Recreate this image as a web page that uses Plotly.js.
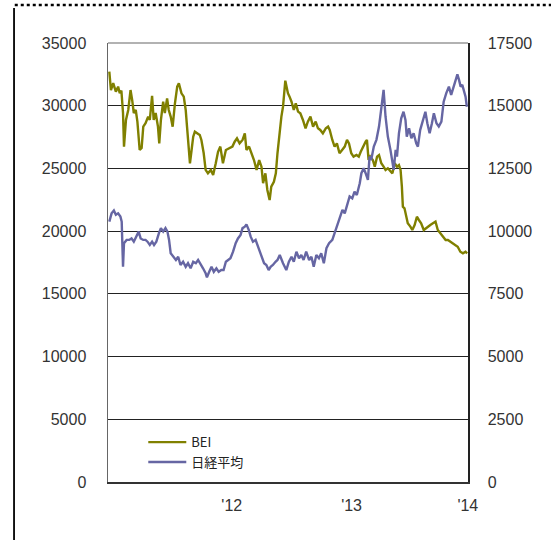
<!DOCTYPE html>
<html>
<head>
<meta charset="utf-8">
<script src="https://cdn.plot.ly/plotly-3.0.1.min.js"></script>
<style>
html,body{margin:0;padding:0;background:#fff;}
#chart{width:551px;height:540px;}
</style>
</head>
<body>
<div id="chart"></div>
<script>
// BEI (left axis)
const beiDates = [
'2011-01-31','2011-02-05','2011-02-12','2011-02-20','2011-02-27','2011-03-04','2011-03-09','2011-03-14','2011-03-17','2011-03-23',
'2011-03-30','2011-04-06','2011-04-11','2011-04-16','2011-04-22','2011-04-27','2011-05-04','2011-05-10','2011-05-15','2011-05-22',
'2011-05-30','2011-06-04','2011-06-11','2011-06-16','2011-06-22','2011-06-29','2011-07-03','2011-07-08','2011-07-15','2011-07-20',
'2011-07-27','2011-08-01','2011-08-07','2011-08-13','2011-08-20','2011-08-27','2011-09-01','2011-09-09','2011-09-16','2011-09-22',
'2011-09-26','2011-09-30','2011-10-05','2011-10-10','2011-10-15','2011-10-20','2011-11-04','2011-11-09','2011-11-16','2011-11-22',
'2011-11-29','2011-12-08','2011-12-15','2011-12-23','2011-12-30','2012-01-06','2012-01-14','2012-01-23','2012-02-02','2012-02-12',
'2012-02-19','2012-02-26','2012-03-05','2012-03-14','2012-03-21','2012-03-26','2012-04-03','2012-04-10','2012-04-18','2012-04-26',
'2012-05-04','2012-05-11','2012-05-16','2012-05-23','2012-05-29','2012-06-05','2012-06-10','2012-06-18','2012-06-24','2012-06-29',
'2012-07-06','2012-07-11','2012-07-16','2012-07-23','2012-07-27','2012-07-31','2012-08-05','2012-08-11','2012-08-18','2012-08-24',
'2012-08-31','2012-09-07','2012-09-15','2012-09-23','2012-09-30','2012-10-08','2012-10-16','2012-10-24','2012-10-31','2012-11-07',
'2012-11-15','2012-11-24','2012-12-01','2012-12-06','2012-12-14','2012-12-21','2012-12-28','2013-01-05','2013-01-13','2013-01-21',
'2013-01-28','2013-02-03','2013-02-10','2013-02-17','2013-02-26','2013-03-05','2013-03-11','2013-03-18','2013-03-26','2013-03-30',
'2013-04-04','2013-04-09','2013-04-17','2013-04-23','2013-04-30','2013-05-06','2013-05-13','2013-05-20','2013-05-26','2013-06-02',
'2013-06-10','2013-06-16','2013-06-23','2013-06-30','2013-07-06','2013-07-11','2013-07-15','2013-07-18','2013-07-23','2013-07-29',
'2013-08-02','2013-08-10','2013-08-16','2013-08-23','2013-08-30','2013-09-05','2013-09-12','2013-09-20','2013-09-26','2013-10-03',
'2013-10-10','2013-10-18','2013-10-26','2013-11-02','2013-11-10','2013-11-18','2013-11-26','2013-12-03','2013-12-10','2013-12-18',
'2013-12-26','2014-01-02','2014-01-10','2014-01-18','2014-01-26','2014-01-31'
];
const beiValues = [
32710,31250,31800,31120,31520,31000,31200,29420,26740,28860,
29660,31250,30460,29420,29660,28730,26470,26630,28330,28600,
29130,28860,30780,28860,29420,28330,27000,28860,30320,29420,
30590,29660,29130,28330,30190,31520,31790,30990,30720,29660,
28330,27000,25400,26470,27530,27930,27670,27270,26230,24880,
24610,24880,24480,25410,26330,26740,25410,26470,26600,26740,
27130,27400,27000,27270,27800,26470,26740,26210,25670,24880,
25670,25140,23820,24610,23280,22480,23550,23940,24610,26210,
28070,29130,29920,32000,31500,31000,30720,30320,29660,30190,
29530,29390,28860,28200,28730,29130,28330,28730,28200,28070,
27800,28200,28330,28070,27270,26740,27000,26210,26470,26740,
27270,27000,26210,25940,26070,25940,26330,26740,27130,27270,
25670,25940,25670,25140,25940,26070,25410,25140,24880,25010,
24740,24610,25410,25140,25270,24880,23550,21950,21820,21150,
20630,20360,20090,20490,21150,20890,20630,20090,20230,20360,
20490,20630,20760,20090,19830,19560,19290,19290,19160,19030,
18900,18760,18360,18230,18360,18230
];

// 日経平均 (right axis)
const nikkeiDates = [
'2011-01-31','2011-02-07','2011-02-14','2011-02-20','2011-02-27','2011-03-06','2011-03-10','2011-03-14','2011-03-17','2011-03-25',
'2011-04-02','2011-04-09','2011-04-16','2011-04-24','2011-05-01','2011-05-07','2011-05-15','2011-05-22','2011-05-28','2011-06-04',
'2011-06-11','2011-06-17','2011-06-24','2011-07-02','2011-07-08','2011-07-15','2011-07-22','2011-07-28','2011-08-02','2011-08-07',
'2011-08-14','2011-08-23','2011-08-30','2011-09-06','2011-09-14','2011-09-22','2011-09-29','2011-10-07','2011-10-15','2011-10-23',
'2011-10-30','2011-11-06','2011-11-14','2011-11-22','2011-11-26','2011-12-03','2011-12-10','2011-12-17','2011-12-25','2012-01-01',
'2012-01-09','2012-01-16','2012-01-23','2012-01-30','2012-02-06','2012-02-14','2012-02-22','2012-02-29','2012-03-08','2012-03-14',
'2012-03-21','2012-03-26','2012-04-02','2012-04-08','2012-04-15','2012-04-23','2012-04-29','2012-05-06','2012-05-13','2012-05-19',
'2012-05-26','2012-06-02','2012-06-08','2012-06-15','2012-06-23','2012-06-29','2012-07-06','2012-07-11','2012-07-16','2012-07-26',
'2012-08-03','2012-08-11','2012-08-18','2012-08-26','2012-09-03','2012-09-10','2012-09-17','2012-09-25','2012-10-04','2012-10-11',
'2012-10-18','2012-10-26','2012-11-03','2012-11-10','2012-11-18','2012-11-26','2012-12-04','2012-12-14','2012-12-21','2012-12-28',
'2013-01-05','2013-01-14','2013-01-21','2013-01-28','2013-02-05','2013-02-13','2013-02-20','2013-02-27','2013-03-08','2013-03-13',
'2013-03-20','2013-03-26','2013-04-02','2013-04-07','2013-04-12','2013-04-20','2013-04-28','2013-05-06','2013-05-13','2013-05-20',
'2013-05-26','2013-06-02','2013-06-10','2013-06-16','2013-06-20','2013-06-26','2013-06-30','2013-07-06','2013-07-13','2013-07-20',
'2013-07-26','2013-07-30','2013-08-06','2013-08-13','2013-08-20','2013-08-28','2013-09-02','2013-09-09','2013-09-17','2013-09-25',
'2013-10-01','2013-10-08','2013-10-15','2013-10-21','2013-10-29','2013-11-05','2013-11-13','2013-11-20','2013-11-28','2013-12-06',
'2013-12-13','2013-12-18','2013-12-26','2014-01-01','2014-01-06','2014-01-11','2014-01-16','2014-01-21','2014-01-26','2014-01-30'
];
const nikkeiValues = [
10380,10710,10820,10650,10710,10580,10380,8580,9520,9650,
9650,9710,9580,9780,9980,9710,9650,9650,9580,9450,
9580,9450,9580,9920,10120,9980,10120,9980,9650,9120,
8980,8850,8980,8650,8780,8580,8720,8520,8780,8720,
8850,8720,8520,8320,8160,8380,8580,8380,8520,8380,
8450,8450,8780,8850,8920,9180,9520,9710,9850,10120,
10180,10270,10050,9780,9580,9650,9450,9180,8980,8720,
8650,8450,8580,8650,8780,8850,9050,8850,8720,8450,
8780,8980,8780,9180,8920,9050,8850,9180,8850,8980,
8580,9050,8920,9120,8720,9320,9520,9650,9920,10250,
10580,10850,10710,11040,11380,11310,11570,11440,11910,12310,
12510,12310,12040,12970,12840,13370,13640,14170,14960,15630,
14560,13770,13240,12840,12440,13240,12970,13900,14500,14760,
14430,13770,14100,13700,13900,13500,13370,14030,14430,14760,
14300,13900,14300,14700,14300,14170,14370,15160,15500,15760,
15430,15630,15960,16250,16030,15760,15830,15630,15360,14960
];

const seriesNames = ['BEI', '日経平均'];
const leftTicks = [0,5000,10000,15000,20000,25000,30000,35000];
const rightTicks = [0,2500,5000,7500,10000,12500,15000,17500];
const xTickVals = ['2012-02-10','2013-02-11','2014-02-02'];
const xTickText = ["'12","'13","'14"];

const FONT = 'Liberation Sans, Arial, Noto Sans CJK JP, sans-serif';

const traces = [
  {x: beiDates, y: beiValues, name: seriesNames[0], type: 'scatter', mode: 'lines',
   line: {color: '#808000', width: 2.4}, yaxis: 'y'},
  {x: nikkeiDates, y: nikkeiValues, name: seriesNames[1], type: 'scatter', mode: 'lines',
   line: {color: '#6666A3', width: 2.4}, yaxis: 'y2'}
];

const layout = {
  width: 551, height: 540,
  margin: {l: 108, r: 83, t: 43, b: 58, pad: 0},
  paper_bgcolor: '#fff', plot_bgcolor: '#fff',
  showlegend: true,
  legend: {x: 0.098, y: 0.125, xanchor: 'left', yanchor: 'top', bgcolor: 'rgba(0,0,0,0)',
           itemwidth: 38,
           font: {family: 'Noto Sans CJK JP, Liberation Sans, sans-serif', size: 13, color: '#222'},
           tracegroupgap: 4, traceorder: 'normal'},
  font: {family: FONT, size: 16, color: '#333'},
  xaxis: {type: 'date', range: ['2011-01-27', '2014-02-02 12:00'],
          tickmode: 'array', tickvals: xTickVals, ticktext: xTickText,
          showgrid: false, zeroline: false, ticks: '',
          showline: true, linecolor: '#333', linewidth: 1.5,
          tickfont: {family: FONT, size: 16, color: '#333'}, ticklabelstandoff: 8},
  yaxis: {range: [0, 35000], tickmode: 'array', tickvals: leftTicks, tickformat: 'd',
          showgrid: true, gridcolor: '#222', gridwidth: 1.2, zeroline: false, ticks: '',
          showline: true, linecolor: '#666', linewidth: 1.5,
          tickfont: {family: FONT, size: 16, color: '#333'}, ticklabelstandoff: 17},
  yaxis2: {range: [0, 17500], overlaying: 'y', side: 'right', tickmode: 'array', tickvals: rightTicks, tickformat: 'd',
           showgrid: false, zeroline: false, ticks: '',
           showline: true, linecolor: '#222', linewidth: 1.5,
           tickfont: {family: FONT, size: 16, color: '#333'}, ticklabelstandoff: 15},
  shapes: [
    {type: 'line', xref: 'paper', yref: 'paper', x0: 0, x1: 1, y0: 1, y1: 1,
     line: {color: '#999', width: 1.5}},
    {type: 'line', xref: 'paper', yref: 'paper', x0: -0.259, x1: 1.235, y0: 1.0866, y1: 1.0866,
     line: {color: '#000', width: 2.5, dash: 'dot'}},
    {type: 'line', xref: 'paper', yref: 'paper', x0: -0.261, x1: -0.261, y0: 1.08, y1: -0.14,
     line: {color: '#000', width: 1.8}}
  ]
};

Plotly.newPlot('chart', traces, layout, {displayModeBar: false, staticPlot: true});
</script>
</body>
</html>
